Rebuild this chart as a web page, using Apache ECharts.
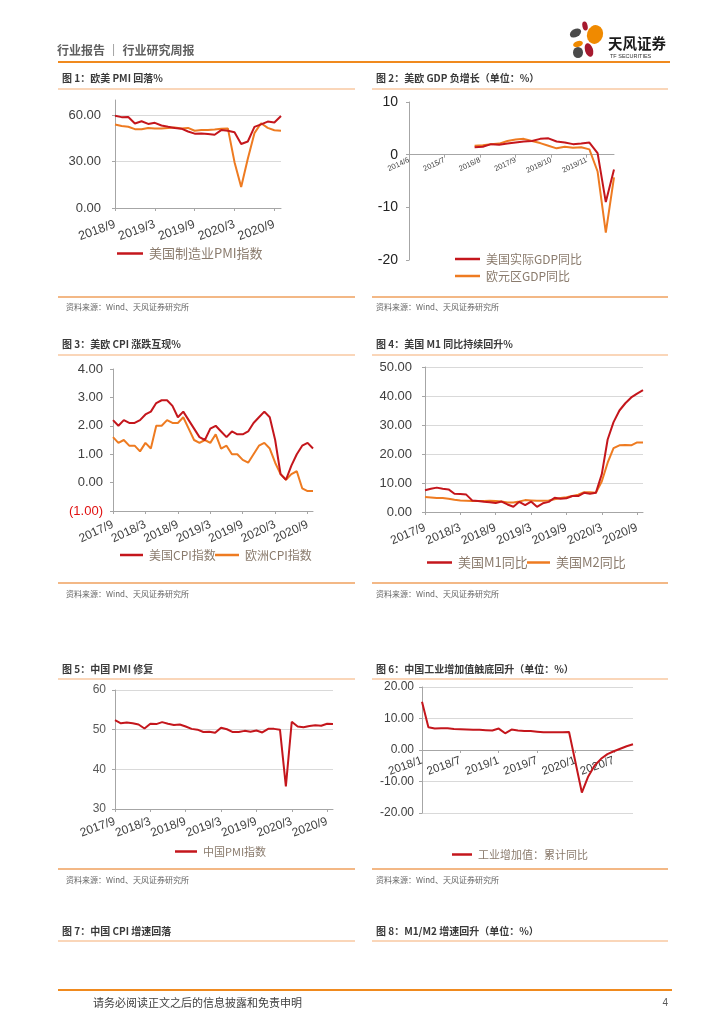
<!DOCTYPE html>
<html><head><meta charset="utf-8">
<script src="https://cdn.jsdelivr.net/npm/echarts/dist/echarts.min.js"></script>
<style>html,body{margin:0;padding:0;background:#fff;}#c{width:724px;height:1024px;}</style>
</head><body><div id="c"></div>
<script>
// ---------------- DATA ----------------
const months = ['2017/9','2017/10','2017/11','2017/12',
  '2018/1','2018/2','2018/3','2018/4','2018/5','2018/6','2018/7','2018/8','2018/9','2018/10','2018/11','2018/12',
  '2019/1','2019/2','2019/3','2019/4','2019/5','2019/6','2019/7','2019/8','2019/9','2019/10','2019/11','2019/12',
  '2020/1','2020/2','2020/3','2020/4','2020/5','2020/6','2020/7','2020/8','2020/9','2020/10'];
const pmiMonths = months.slice(12);   // 2018/9 - 2020/10
const ivaMonths = months.slice(4);    // 2018/1 - 2020/10

// Fig 1
const usPmi = [59.8,58.9,59.0,54.8,56.2,54.5,55.2,53.5,52.6,51.9,51.4,49.6,48.2,48.3,48.0,47.5,50.5,50.1,49.1,41.5,43.1,52.6,54.2,56.0,55.4,59.6];
const euPmi = [54.1,53.1,52.7,51.1,51.0,51.9,51.6,51.5,51.8,52.2,51.5,51.9,50.1,50.6,50.6,50.9,51.3,51.6,29.7,13.6,31.9,48.5,54.9,51.9,50.4,50.0];

// Fig 2 (quarterly)
const gdpQuarters = ['2016/6','2016/9','2016/12','2017/3','2017/6','2017/9','2017/12','2018/3','2018/6','2018/9','2018/12','2019/3','2019/6','2019/9','2019/12','2020/3','2020/6','2020/9'];
const usGdp = [1.4,1.5,2.0,1.9,2.1,2.3,2.5,2.6,3.0,3.1,2.5,2.3,2.0,2.1,2.3,0.3,-9.0,-2.8];
const euGdp = [1.7,1.8,2.0,2.1,2.6,2.9,3.0,2.6,2.2,1.7,1.2,1.5,1.3,1.4,1.0,-3.2,-14.8,-4.3];
const gdpAxisStart = '2014/6', gdpAxisEnd = '2020/9';

// Fig 3
const usCpi = [2.2,2.0,2.2,2.1, 2.1,2.2,2.4,2.5,2.8,2.9,2.9,2.7,2.3,2.5,2.2,1.9, 1.6,1.5,1.9,2.0,1.8,1.6,1.8,1.7,1.7,1.8,2.1,2.3, 2.5,2.3,1.5,0.3,0.1,0.6,1.0,1.3,1.4,1.2];
const euCpi = [1.6,1.4,1.5,1.3, 1.3,1.1,1.4,1.2,2.0,2.0,2.2,2.1,2.1,2.3,1.9,1.5, 1.4,1.5,1.4,1.7,1.2,1.3,1.0,1.0,0.8,0.7,1.0,1.3, 1.4,1.2,0.7,0.3,0.1,0.3,0.4,-0.2,-0.3,-0.3];

// Fig 4
const usM1 = [7.5,8.0,8.4,8.0, 7.8,6.3,6.2,6.0,4.0,3.8,3.5,3.4,3.1,3.6,2.6,1.8, 3.5,2.4,3.6,1.8,3.0,3.5,4.9,4.6,4.7,5.5,5.5,6.6, 6.3,6.6,13.0,25.0,31.0,35.0,37.5,39.5,40.8,42.0];
const usM2 = [5.2,5.0,4.8,4.8, 4.6,4.2,4.0,3.9,3.8,3.8,3.8,3.9,3.8,3.6,3.3,3.3, 3.6,4.1,4.0,3.9,3.9,4.0,4.4,4.8,5.1,5.5,6.0,6.8, 6.8,6.6,10.5,17.0,22.0,23.0,23.1,23.0,24.0,24.0];

// Fig 5
const cnPmi = [52.4,51.6,51.8,51.6, 51.3,50.3,51.5,51.4,51.9,51.5,51.2,51.3,50.8,50.2,50.0,49.4, 49.5,49.2,50.5,50.1,49.4,49.4,49.7,49.5,49.8,49.3,50.2,50.2, 50.0,35.7,52.0,50.8,50.6,50.9,51.1,51.0,51.5,51.4];

// Fig 6
const cnIva = [15.3,7.2,6.8,6.9,6.9,6.7,6.6,6.5,6.4,6.4,6.3,6.2, 6.8,5.3,6.5,6.2,6.0,6.0,5.8,5.6,5.6,5.6,5.6,5.7, null,-13.5,-8.4,-4.9,-2.8,-1.3,-0.4,0.4,1.2,1.8];

// ---------------- HELPERS ----------------
function monthRange(a, b) {
  let [y, m] = a.split('/').map(Number);
  const [ye, me] = b.split('/').map(Number);
  const out = [];
  while (y < ye || (y === ye && m <= me)) { out.push(y + '/' + m); m++; if (m > 12) { m = 1; y++; } }
  return out;
}
const gdpMonths = monthRange(gdpAxisStart, gdpAxisEnd);
const onMonths = (vals) => gdpMonths.map(mm => { const i = gdpQuarters.indexOf(mm); return i >= 0 ? vals[i] : null; });

const CJK = '"Noto Sans CJK SC","Noto Sans",sans-serif';
const NUM = '"Liberation Sans",Arial,"Noto Sans CJK SC",sans-serif';
const RED = '#C4161C', ORANGE = '#EE7B21';
const AXIS = '#A6A6A6', GRID = '#D9D9D9', LBL = '#404040', LEG = '#8A7B6D';

function xAxisCfg(gi, data, o) {
  return {
    type: 'category', gridIndex: gi, data: data, boundaryGap: false, offset: o.offset || 0,
    axisLine: { show: true, onZero: false, lineStyle: { color: o.lineColor || AXIS, width: 1 } },
    axisTick: { show: true, interval: o.interval, length: 3, lineStyle: { color: AXIS } },
    axisLabel: { interval: o.interval, rotate: o.rotate, margin: o.margin, fontSize: o.fontSize, color: o.color || LBL,
      fontFamily: NUM, hideOverlap: false },
    splitLine: { show: false }
  };
}
function yAxisCfg(gi, min, max, interval, o) {
  return {
    type: 'value', gridIndex: gi, min: min, max: max, interval: interval,
    axisLine: { show: true, lineStyle: { color: AXIS } },
    axisTick: { show: true, length: 3, lineStyle: { color: AXIS } },
    axisLabel: { fontSize: o.fontSize, color: o.color || LBL, fontFamily: NUM, margin: o.margin || 6,
      formatter: o.formatter, showMaxLabel: o.showMaxLabel },
    splitLine: { show: !!o.split, showMaxLine: o.showMaxLine, lineStyle: { color: GRID, width: 1 } }
  };
}
function line(name, gi, data, color) {
  return { type: 'line', name: name, xAxisIndex: gi, yAxisIndex: gi, data: data, symbol: 'none', showSymbol: false,
    connectNulls: true, lineStyle: { width: 2, color: color }, itemStyle: { color: color }, silent: true, animation: false };
}
function legend(name, left, cy, fontSize, w) {
  return { data: [name], left: left, top: cy - 9, padding: 0, itemWidth: w || 25, itemHeight: 2.5, icon: 'rect',
    selectedMode: false, itemGap: 0,
    textStyle: { fontSize: fontSize, color: LEG, fontFamily: CJK, padding: [0, 0, 0, 1] } };
}
const fix2 = v => Number(v).toFixed(2);
const T = (text, x, y, size, color, weight, align, family) => ({ type: 'text', x: x, y: y, silent: true,
  style: { text: text, fontSize: size, fill: color, fontWeight: weight || 'normal', fontFamily: family || CJK,
    textAlign: align || 'left', textVerticalAlign: 'middle', align: align || 'left', verticalAlign: 'middle' } });
const L = (x1, y1, x2, y2, color, w) => ({ type: 'line', silent: true, shape: { x1: x1, y1: y1, x2: x2, y2: y2 }, style: { stroke: color, lineWidth: w } });
const P = (x, y, rx, ry, rot, color) => ({ type: 'circle', x: x, y: y, scaleX: rx, scaleY: ry, rotation: rot, silent: true,
  shape: { cx: 0, cy: 0, r: 1 }, style: { fill: color } });

// ---------------- PAGE GRAPHICS ----------------
const TITLE_C = '#3A3A3A', UNDER = '#F9C8A2', BOTTOM = '#EFA15E', SRC = '#666666';
const srcText = '资料来源：Wind、天风证券研究所';
const graphics = [
  T('行业报告 ｜ 行业研究周报', 57, 50, 12, '#606060', 'bold'),
  L(58, 62, 670, 62, '#F08A1E', 2),
  P(575.5, 33, 6, 4, 0.5, '#4A4A4A'),
  P(585, 26, 2.6, 4.6, 0.2, '#A6192E'),
  P(595, 34.5, 8, 9.5, -0.3, '#F08A00'),
  P(578, 44, 5, 3, 0.3, '#F08A00'),
  P(578, 52.5, 5, 5.5, 0, '#4A4A4A'),
  P(589, 50, 4, 7, 0.3, '#A6192E'),
  T('天风证券', 608, 43.5, 14.5, '#1A1A1A', 'bold'),
  T('TF SECURITIES', 610, 56, 5.5, '#333333', 'normal', 'left', NUM),

  T('图 1：欧美 PMI 回落%', 62, 78, 10, TITLE_C, 'bold'),
  T('图 2：美欧 GDP 负增长（单位：%）', 376, 78, 10, TITLE_C, 'bold'),
  L(58, 89, 355, 89, UNDER, 1.5), L(372, 89, 668, 89, UNDER, 1.5),
  L(58, 297, 355, 297, BOTTOM, 1.5), L(372, 297, 668, 297, BOTTOM, 1.5),
  T(srcText, 66, 307, 8, SRC), T(srcText, 376, 307, 8, SRC),

  T('图 3：美欧 CPI 涨跌互现%', 62, 344, 10, TITLE_C, 'bold'),
  T('图 4：美国 M1 同比持续回升%', 376, 344, 10, TITLE_C, 'bold'),
  L(58, 355, 355, 355, UNDER, 1.5), L(372, 355, 668, 355, UNDER, 1.5),
  L(58, 583, 355, 583, BOTTOM, 1.5), L(372, 583, 668, 583, BOTTOM, 1.5),
  T(srcText, 66, 594, 8, SRC), T(srcText, 376, 594, 8, SRC),

  T('图 5：中国 PMI 修复', 62, 669, 10, TITLE_C, 'bold'),
  T('图 6：中国工业增加值触底回升（单位：%）', 376, 669, 10, TITLE_C, 'bold'),
  L(58, 679, 355, 679, UNDER, 1.5), L(372, 679, 668, 679, UNDER, 1.5),
  L(58, 869, 355, 869, BOTTOM, 1.5), L(372, 869, 668, 869, BOTTOM, 1.5),
  T(srcText, 66, 880, 8, SRC), T(srcText, 376, 880, 8, SRC),

  T('图 7：中国 CPI 增速回落', 62, 931, 10, TITLE_C, 'bold'),
  T('图 8：M1/M2 增速回升（单位：%）', 376, 931, 10, TITLE_C, 'bold'),
  L(58, 941, 355, 941, UNDER, 1.5), L(372, 941, 668, 941, UNDER, 1.5),

  L(58, 990, 672, 990, '#F08A1E', 2),
  T('请务必阅读正文之后的信息披露和免责申明', 93, 1003, 11, '#404040'),
  T('4', 668, 1003, 10, '#595959', 'normal', 'right', NUM)
];

// ---------------- OPTION ----------------
const grids = [
  { left: 115, top: 100, width: 166, height: 108 },  // fig1
  { left: 409, top: 102, width: 205, height: 158 },  // fig2
  { left: 113, top: 369, width: 200, height: 142 },  // fig3
  { left: 425, top: 367, width: 218, height: 145 },  // fig4
  { left: 115, top: 690, width: 218, height: 119 },  // fig5
  { left: 422, top: 687, width: 211, height: 126 }   // fig6
].map(g => Object.assign({ containLabel: false, outerBoundsMode: 'none', show: false }, g));

const option = {
  animation: false,
  backgroundColor: '#ffffff',
  grid: grids,
  xAxis: [
    xAxisCfg(0, pmiMonths, { interval: 5, rotate: 20, margin: 16, fontSize: 12.5 }),
    xAxisCfg(1, gdpMonths, { interval: 12, rotate: 25, margin: 5, fontSize: 7.5, offset: -105.3 }),
    xAxisCfg(2, months, { interval: 5, rotate: 25, margin: 13, fontSize: 12 }),
    xAxisCfg(3, months, { interval: 5, rotate: 23, margin: 15, fontSize: 12 }),
    xAxisCfg(4, months, { interval: 5, rotate: 20, margin: 12, fontSize: 12 }),
    xAxisCfg(5, ivaMonths, { interval: 5, rotate: 20, margin: 10, fontSize: 11.5, offset: -63 })
  ],
  yAxis: [
    yAxisCfg(0, 0, 70, 30, { fontSize: 13, formatter: fix2, split: true, showMaxLine: false, showMaxLabel: false, margin: 14 }),
    yAxisCfg(1, -20, 10, 10, { fontSize: 14, color: '#222', formatter: v => String(v), margin: 11 }),
    yAxisCfg(2, -1, 4, 1, { fontSize: 13, margin: 10,
      formatter: v => (v < 0 ? '(' + Math.abs(v).toFixed(2) + ')' : Number(v).toFixed(2)) }),
    yAxisCfg(3, 0, 50, 10, { fontSize: 13, formatter: fix2, split: true, margin: 13 }),
    yAxisCfg(4, 30, 60, 10, { fontSize: 12, color: '#595959', formatter: v => String(v), split: true, margin: 9 }),
    yAxisCfg(5, -20, 20, 10, { fontSize: 12, formatter: fix2, split: true, margin: 8 })
  ],
  legend: [
    legend('美国制造业PMI指数', 117, 256, 13, 26),
    legend('美国实际GDP同比', 455, 262, 12, 25),
    legend('欧元区GDP同比', 455, 279, 12, 25),
    legend('美国CPI指数', 120, 558, 12, 23),
    legend('欧洲CPI指数', 215, 558, 12, 24),
    legend('美国M1同比', 427, 565, 13, 25),
    legend('美国M2同比', 527, 565, 13, 23),
    legend('中国PMI指数', 175, 855, 11, 22),
    legend('工业增加值：累计同比', 452, 858, 11, 20)
  ],
  series: [
    line('欧元区PMI', 0, euPmi, ORANGE),
    line('美国制造业PMI指数', 0, usPmi, RED),
    line('欧元区GDP同比', 1, onMonths(euGdp), ORANGE),
    line('美国实际GDP同比', 1, onMonths(usGdp), RED),
    line('欧洲CPI指数', 2, euCpi, ORANGE),
    line('美国CPI指数', 2, usCpi, RED),
    line('美国M2同比', 3, usM2, ORANGE),
    line('美国M1同比', 3, usM1, RED),
    line('中国PMI指数', 4, cnPmi, RED),
    line('工业增加值：累计同比', 5, cnIva, RED)
  ],
  graphic: { elements: graphics }
};
// negative label colour for fig 3
option.yAxis[2].axisLabel.color = (v) => (Number(v) < 0 ? '#E01010' : LBL);

const chart = echarts.init(document.getElementById('c'), null, { renderer: 'canvas', width: 724, height: 1024 });
chart.setOption(option);
</script></body></html>
